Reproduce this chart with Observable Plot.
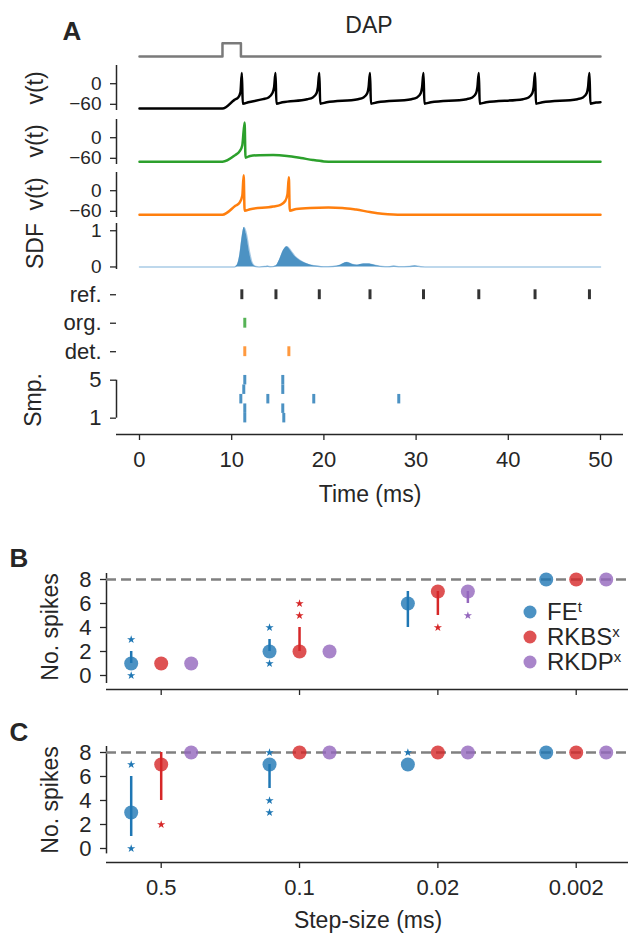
<!DOCTYPE html>
<html><head><meta charset="utf-8">
<script src="https://cdn.jsdelivr.net/npm/d3@7"></script>
<script src="https://cdn.jsdelivr.net/npm/@observablehq/plot@0.6"></script>
<style>
body{margin:0;background:#fff;}
#fig{position:relative;width:628px;height:933px;overflow:hidden;font-family:"Liberation Sans",Arial,sans-serif;color:#262626;background:#fff;}
.abs{position:absolute;left:0;}
.lbl{position:absolute;transform:translate(-50%,-50%);white-space:nowrap;font-size:23px;line-height:1;}
.rot{transform:translate(-50%,-50%) rotate(-90deg);}
.letter{font-weight:bold;font-size:26px;}
.leg{position:absolute;font-size:24px;line-height:1;white-space:nowrap;transform:translateY(-50%);}
.leg sup{font-size:0.62em;vertical-align:0.55em;}
.ldot{position:absolute;width:13px;height:13px;border-radius:50%;transform:translate(-50%,-50%);}
</style></head><body><div id="fig"></div>
<script>
// ---------------- DATA ----------------
// Panel A: stimulus (time ms, on/off)
const stimulus = [[0,0],[9,0],[9,1],[11,1],[11,0],[50,0]];
// reference neuron trace (time ms, mV)
const refTrace = [
 [0,-72.5],[9.0,-72.5],[10.3,-47],[10.7,-40],[10.95,-25],[11.1,31],[11.2,-58],[11.8,-54],
 [13.4,-45],[14.0,-40],[14.4,-28],[14.6,-10],[14.75,31],[14.85,-58],[15.5,-54],
 [18.2,-45],[18.8,-40],[19.2,-28],[19.35,-10],[19.5,31],[19.6,-58],[20.3,-54],
 [23.7,-45],[24.3,-40],[24.7,-28],[24.85,-10],[25.0,31],[25.1,-58],[25.8,-54],
 [29.5,-45],[30.1,-40],[30.5,-28],[30.65,-10],[30.8,31],[30.9,-58],[31.6,-54],
 [35.5,-45],[36.1,-40],[36.5,-28],[36.65,-10],[36.8,31],[36.9,-58],[37.6,-54],
 [41.6,-45],[42.2,-40],[42.6,-28],[42.75,-10],[42.9,31],[43.0,-58],[43.7,-54],
 [47.5,-45],[48.1,-40],[48.5,-28],[48.65,-10],[48.8,31],[48.9,-58],[49.5,-55],[50,-54]
];
// original-parameter model trace
const orgTrace = [
 [0,-70],[9.0,-70],[10.4,-50],[10.85,-40],[11.15,-22],[11.4,44],[11.5,-58],[12.0,-53],
 [13.0,-51],[14.5,-50.5],[16.0,-53],[17.5,-59],[18.8,-65],[20.0,-69],[21.0,-70],[50,-70]
];
// detected-parameter model trace
const detTrace = [
 [0,-70],[9.0,-70],[10.4,-44],[10.85,-35],[11.15,-15],[11.3,45],[11.4,-58],[12.0,-54],
 [14.5,-46],[15.3,-41],[15.8,-30],[16.05,-10],[16.2,39],[16.3,-58],[17.0,-53],[18.5,-50],
 [20.5,-49],[22.0,-50],[23.5,-55],[25.0,-62],[26.3,-67],[27.5,-69.5],[28.5,-70],[50,-70]
];
// spike density function of samples
const sdf = [
 [0,0],[10.3,0],[10.6,0.05],[10.9,0.35],[11.15,0.85],[11.35,1.09],[11.6,0.9],[11.9,0.45],[12.2,0.12],[12.5,0.02],
 [13.0,0],[13.6,0.01],[13.9,0.02],[14.2,0.005],[14.8,0.03],[15.2,0.2],[15.6,0.45],[16.0,0.56],[16.4,0.45],
 [16.9,0.28],[17.4,0.18],[18.0,0.1],[18.6,0.05],[19.3,0.02],[20.0,0.005],[21.0,0.01],[21.8,0.05],[22.5,0.12],
 [23.1,0.07],[23.6,0.05],[24.3,0.08],[24.8,0.08],[25.5,0.05],[26.3,0.01],[27.0,0.005],[27.6,0.02],[28.2,0.005],
 [29.3,0.01],[29.9,0.03],[30.5,0.005],[31.5,0],[50,0]
];
// spike times (ms)
const refSpikes = [11.1, 14.8, 19.5, 25.0, 30.8, 36.8, 42.9, 48.8];
const orgSpikes = [11.42];
const detSpikes = [11.42, 16.2];
const smp1 = [11.42, 15.65];
const smp2 = [11.42, 15.54];
const smp3 = [10.99, 13.92, 18.9, 28.12];
const smp4 = [11.31, 15.54];
const smp5 = [11.42, 15.54];
const timeTicks = [0, 10, 20, 30, 40, 50];

// Panels B and C
const stepLabels = ["0.5", "0.1", "0.02", "0.002"];
const methods = ["FE", "RKBS", "RKDP"];
const trueSpikes = 8;
// rows: FE, RKBS, RKDP ; columns: step sizes
const bMedian = [[1,2,6,8],[1,2,7,8],[1,2,7,8]];
const bLow    = [[1,2,4,8],[1,2,5,8],[1,2,6,8]];
const bHigh   = [[2,3,7,8],[1,4,7,8],[1,2,7,8]];
const bOutliers = [["FE",0,3],["FE",0,0],["FE",1,4],["FE",1,1],["RKBS",1,5],["RKBS",1,6],["RKBS",2,4],["RKDP",2,5]];
const cMedian = [[3,7,7,8],[7,8,8,8],[8,8,8,8]];
const cLow    = [[1,5,7,8],[4,8,8,8],[8,8,8,8]];
const cHigh   = [[6,7,7,8],[8,8,8,8],[8,8,8,8]];
const cOutliers = [["FE",0,7],["FE",0,0],["FE",1,8],["FE",1,4],["FE",1,3],["FE",2,8],["RKBS",0,2]];

// ---------------- STYLE ----------------
const INK = "#262626";
const FONT = "'Liberation Sans', Arial, sans-serif";
const methodColor = {FE: "#1f77b4", RKBS: "#d62728", RKDP: "#9467bd"};
const methodDx = {FE: -30, RKBS: 0, RKDP: 30};
const fig = document.getElementById("fig");
const baseStyle = {fontFamily: FONT, fontSize: "22px", color: INK, background: "transparent", overflow: "visible"};
const tightStyle = {...baseStyle, fontSize: "19px"};
const minus = d => d < 0 ? "\u2212" + Math.abs(d) : String(d);

function place(svg, top) {
  const d = document.createElement("div");
  d.className = "abs"; d.style.top = top + "px";
  d.appendChild(svg); fig.appendChild(d);
}
function text(str, x, y, cls) {
  const d = document.createElement("div");
  d.className = "lbl " + (cls || "");
  d.style.left = x + "px"; d.style.top = y + "px";
  d.innerHTML = str; fig.appendChild(d);
}

// ---------------- PANEL A ----------------
const xDom = [-2.494, 52.494];
const pt = {x: d => d[0], y: d => d[1]};

place(Plot.plot({
  width: 628, height: 30, marginLeft: 116, marginRight: 5, marginTop: 0, marginBottom: 0,
  style: baseStyle, x: {domain: xDom, axis: null}, y: {domain: [-0.677, 1.579], axis: null},
  marks: [Plot.line(stimulus, {...pt, stroke: "#7a7a7a", strokeWidth: 2.5})]
}), 35);

function tracePlot(data, color, top) {
  place(Plot.plot({
    width: 628, height: 55, marginLeft: 116, marginRight: 5, marginTop: 5, marginBottom: 5,
    style: tightStyle, x: {domain: xDom, axis: null}, y: {domain: [-78, 53], axis: null},
    marks: [
      Plot.axisY({ticks: [0, -60], tickFormat: minus, tickSize: 6, tickPadding: 9, label: null, strokeWidth: 1.3}),
      Plot.ruleX([xDom[0]], {stroke: INK, strokeWidth: 1.5}),
      Plot.line(data, {...pt, stroke: color, strokeWidth: 2.5, curve: "monotone-x"})
    ]
  }), top);
}
tracePlot(refTrace, "#000000", 60);
tracePlot(orgTrace, "#2ca02c", 113.5);
tracePlot(detTrace, "#ff7f0e", 166.5);

place(Plot.plot({
  width: 628, height: 56, marginLeft: 116, marginRight: 5, marginTop: 5, marginBottom: 5,
  style: tightStyle, x: {domain: xDom, axis: null}, y: {domain: [-0.07, 1.2], axis: null},
  marks: [
    Plot.axisY({ticks: [0, 1], tickFormat: d => String(d), tickSize: 6, tickPadding: 9, label: null, strokeWidth: 1.3}),
    Plot.ruleX([xDom[0]], {stroke: INK, strokeWidth: 1.5}),
    Plot.lineY(sdf, {...pt, stroke: "#a9cbe6", strokeWidth: 1.5, curve: "monotone-x"}),
    Plot.areaY(sdf, {...pt, fill: "#4c92c3", curve: "monotone-x"})
  ]
}), 218.3);

// raster
const rowPos = {ref: 14, org: 11, det: 8};
const rowLabels = new Map([[1, "1"], [5, "5"], [8, "det."], [11, "org."], [14, "ref."]]);
const smpRows = [smp1, smp2, smp3, smp4, smp5].flatMap((s, i) => s.map(t => ({t, row: i + 1})));
const spikeRule = (data, y, color) => Plot.ruleX(data, {x: d => d, y1: y - 0.52, y2: y + 0.52, stroke: color, strokeWidth: 3});
place(Plot.plot({
  width: 628, height: 194, marginLeft: 116, marginRight: 5, marginTop: 0, marginBottom: 40,
  style: baseStyle, x: {domain: xDom, axis: null}, y: {domain: [-0.72, 15.5], axis: null},
  marks: [
    Plot.axisY({ticks: [...rowLabels.keys()], tickFormat: d => rowLabels.get(d), tickSize: 6, tickPadding: 9, label: null, strokeWidth: 1.3}),
    Plot.ruleX([xDom[0]], {y1: 1, y2: 5, stroke: INK, strokeWidth: 1.5}),
    Plot.axisX({ticks: timeTicks, tickSize: 6, tickPadding: 11, label: null, strokeWidth: 1.3}),
    Plot.ruleY([-0.72], {stroke: INK, strokeWidth: 1.5}),
    spikeRule(refSpikes, rowPos.ref, "#333333"),
    spikeRule(orgSpikes, rowPos.org, "#56b356"),
    spikeRule(detSpikes, rowPos.det, "#ff993e"),
    Plot.ruleX(smpRows, {x: "t", y1: d => d.row - 0.5, y2: d => d.row + 0.5, stroke: "#4c92c3", strokeWidth: 3})
  ]
}), 280);

text("A", 72, 31, "letter");
text("DAP", 369, 25);
text("v(t)", 35, 88, "rot");
text("v(t)", 35, 141, "rot");
text("v(t)", 35, 194, "rot");
text("SDF", 35, 246, "rot");
text("Smp.", 33, 400, "rot");
text("Time (ms)", 370, 494);

// ---------------- PANELS B, C ----------------
const xStep = [-0.3954, 3.378];
function spikePanel(median, low, high, outliers, top, yLineMin, showLabels) {
  const rows = methods.flatMap((m, i) => stepLabels.map((s, j) => ({m, j, mid: median[i][j], lo: low[i][j], hi: high[i][j]})));
  const outs = outliers.map(([m, j, v]) => ({m, j, v}));
  const marks = [
    Plot.axisY({ticks: [0, 2, 4, 6, 8], tickSize: 6, tickPadding: 9, label: null, strokeWidth: 1.3}),
    Plot.ruleX([xStep[0]], {y1: yLineMin, y2: 8.5, stroke: INK, strokeWidth: 1.5}),
    Plot.axisX({ticks: [0, 1, 2, 3], tickFormat: showLabels ? (d => stepLabels[d]) : (() => ""), tickSize: 6, tickPadding: 11, label: null, strokeWidth: 1.3}),
    Plot.ruleY([-1.167], {stroke: INK, strokeWidth: 1.5}),
    Plot.ruleY([trueSpikes], {stroke: "#808080", strokeWidth: 2.5, strokeDasharray: "10,5"})
  ];
  for (const m of methods) {
    const r = rows.filter(d => d.m === m), o = outs.filter(d => d.m === m);
    marks.push(Plot.ruleX(r, {x: "j", y1: "lo", y2: "hi", dx: methodDx[m], stroke: methodColor[m], strokeWidth: 2.5}));
    marks.push(Plot.dot(o, {x: "j", y: "v", dx: methodDx[m], symbol: "star", r: 2.6, fill: methodColor[m], stroke: "none"}));
    marks.push(Plot.dot(r, {x: "j", y: "mid", dx: methodDx[m], r: 7, fill: methodColor[m], fillOpacity: 0.8, stroke: "none"}));
  }
  place(Plot.plot({
    width: 628, height: 13 + 116 + (showLabels ? 50 : 10), marginLeft: 106, marginRight: 0, marginTop: 13, marginBottom: showLabels ? 50 : 10,
    style: baseStyle, x: {domain: xStep, axis: null}, y: {domain: [-1.167, 8.5], axis: null},
    marks
  }), top);
}
spikePanel(bMedian, bLow, bHigh, bOutliers, 560, -0.667, false);
spikePanel(cMedian, cLow, cHigh, cOutliers, 733.3, -0.45, true);

text("B", 19, 558, "letter");
text("C", 19, 732, "letter");
text("No. spikes", 50, 627, "rot");
text("No. spikes", 50, 800, "rot");
text("Step-size (ms)", 368, 920);

// legend
const legLabels = ["FE<sup>t</sup>", "RKBS<sup>x</sup>", "RKDP<sup>x</sup>"];
methods.forEach((m, i) => {
  const y = 612 + i * 25;
  const dot = document.createElement("div");
  dot.className = "ldot"; dot.style.left = "530px"; dot.style.top = y + "px";
  dot.style.background = methodColor[m]; dot.style.opacity = 0.8;
  fig.appendChild(dot);
  const t = document.createElement("div");
  t.className = "leg"; t.style.left = "547px"; t.style.top = y + "px";
  t.innerHTML = legLabels[i]; fig.appendChild(t);
});
</script></body></html>
